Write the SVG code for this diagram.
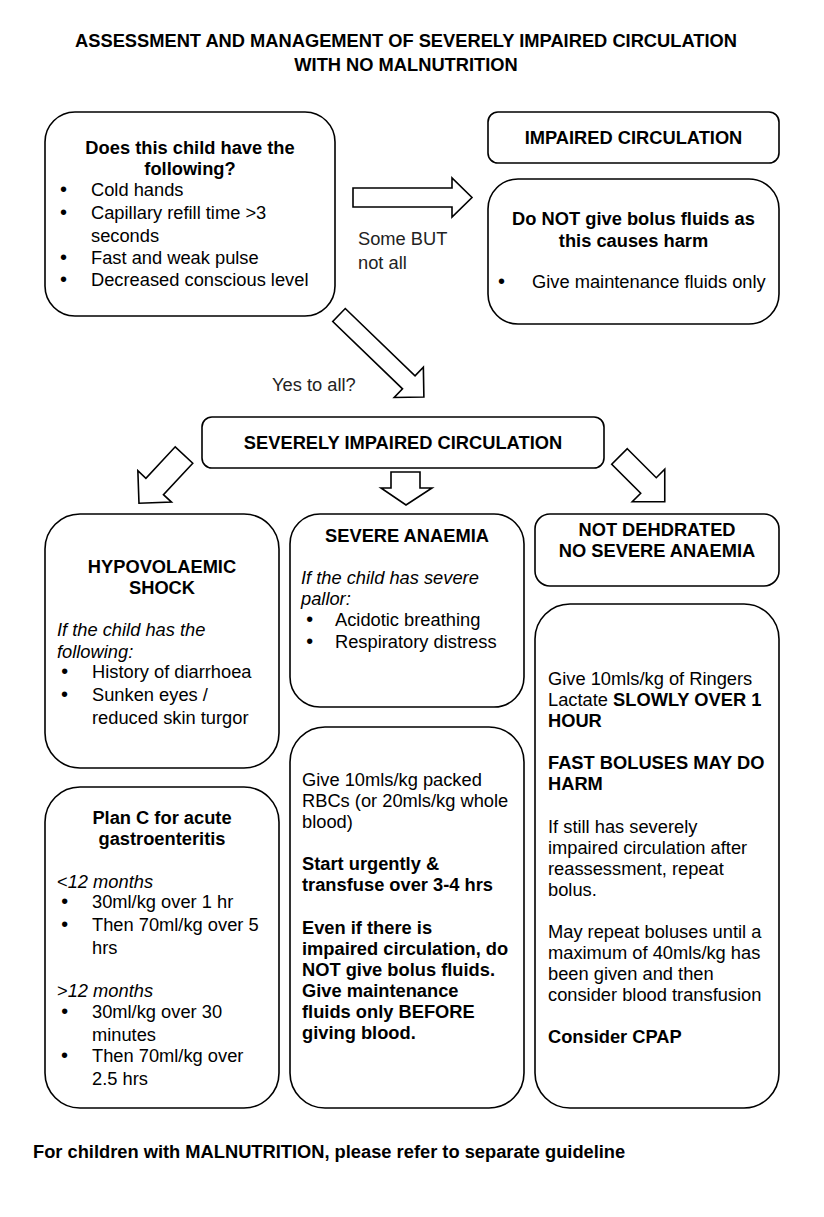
<svg xmlns="http://www.w3.org/2000/svg" width="824" height="1217" viewBox="0 0 824 1217">
<style>
text{font-family:"Liberation Sans",Arial,sans-serif;font-size:18.3px;fill:#000}
.b{font-weight:bold}
.i{font-style:italic}
.c{text-anchor:middle}
.d{font-size:20px}
.box{fill:#fff;stroke:#000;stroke-width:1.6}
.arr{fill:#fff;stroke:#000;stroke-width:1.6;stroke-linejoin:miter}
.lbl{fill:#222}
</style>
<rect width="824" height="1217" fill="#fff"/>
<g id="title">
<text class="b c" x="406" y="47">ASSESSMENT AND MANAGEMENT OF SEVERELY IMPAIRED CIRCULATION</text>
<text class="b c" x="406" y="71">WITH NO MALNUTRITION</text>
</g>
<g id="connectors">
<path class="arr" d="M353,188 L452,188 L452,178 L472,197.5 L452,217 L452,207 L353,207 Z"/>
<path class="arr" transform="translate(339,315) rotate(44)" d="M0,-9 L97,-9 L97,-21 L118,0 L97,21 L97,9 L0,9 Z"/>
<path class="arr" transform="translate(184,455) rotate(133)" d="M0,-12 L43,-12 L43,-23 L66,0 L43,23 L43,12 L0,12 Z"/>
<path class="arr" d="M391,472 L420,472 L420,488 L432,488 L406,505 L381,488 L391,488 Z"/>
<path class="arr" transform="translate(619.5,456.5) rotate(45)" d="M0,-11 L41,-11 L41,-23 L64,0 L41,23 L41,11 L0,11 Z"/>
<text class="lbl" x="358" y="245">Some BUT</text>
<text class="lbl" x="358" y="269">not all</text>
<text class="lbl" x="272" y="391">Yes to all?</text>
</g>
<g id="question">
<rect class="box" x="45" y="112" width="290" height="204" rx="30"/>
<text class="b c" x="190" y="154">Does this child have the</text>
<text class="b c" x="190" y="175">following?</text>
<text class="d" x="60" y="196">•</text><text x="91" y="196">Cold hands</text>
<text class="d" x="60" y="219">•</text><text x="91" y="219">Capillary refill time &gt;3</text>
<text x="91" y="242">seconds</text>
<text class="d" x="60" y="264">•</text><text x="91" y="264">Fast and weak pulse</text>
<text class="d" x="60" y="286">•</text><text x="91" y="286">Decreased conscious level</text>
</g>
<g id="impaired">
<rect class="box" x="488" y="112" width="291" height="51" rx="10"/>
<text class="b c" x="633.5" y="144">IMPAIRED CIRCULATION</text>
</g>
<g id="no-bolus">
<rect class="box" x="488" y="179" width="291" height="145" rx="30"/>
<text class="b c" x="633.5" y="225">Do NOT give bolus fluids as</text>
<text class="b c" x="633.5" y="247">this causes harm</text>
<text class="d" x="498" y="288">•</text><text x="532" y="288">Give maintenance fluids only</text>
</g>
<g id="severely">
<rect class="box" x="202" y="417" width="402" height="51" rx="10"/>
<text class="b c" x="403" y="449">SEVERELY IMPAIRED CIRCULATION</text>
</g>
<g id="hypovolaemic">
<rect class="box" x="45" y="514" width="234" height="254" rx="35"/>
<text class="b c" x="162" y="573">HYPOVOLAEMIC</text>
<text class="b c" x="162" y="594">SHOCK</text>
<text class="i" x="57" y="636">If the child has the</text>
<text class="i" x="57" y="658">following:</text>
<text class="i d" x="61" y="678">•</text><text x="92" y="678">History of diarrhoea</text>
<text class="d" x="61" y="701">•</text><text x="92" y="701">Sunken eyes /</text>
<text x="92" y="724">reduced skin turgor</text>
</g>
<g id="anaemia">
<rect class="box" x="290" y="514" width="234" height="193" rx="30"/>
<text class="b c" x="407" y="542">SEVERE ANAEMIA</text>
<text class="i" x="301" y="584">If the child has severe</text>
<text class="i" x="301" y="605">pallor:</text>
<text class="i d" x="306" y="626">•</text><text x="335" y="626">Acidotic breathing</text>
<text class="i d" x="306" y="648">•</text><text x="335" y="648">Respiratory distress</text>
</g>
<g id="not-dehydrated">
<rect class="box" x="535" y="514" width="244" height="72" rx="15"/>
<text class="b c" x="657" y="536">NOT DEHDRATED</text>
<text class="b c" x="657" y="557">NO SEVERE ANAEMIA</text>
</g>
<g id="plan-c">
<rect class="box" x="45" y="787" width="234" height="321" rx="35"/>
<text class="b c" x="162" y="824">Plan C for acute</text>
<text class="b c" x="162" y="845">gastroenteritis</text>
<text x="57" y="888">&lt;<tspan class="i">12 months</tspan></text>
<text class="i d" x="61" y="908">•</text><text x="92" y="908">30ml/kg over 1 hr</text>
<text class="i d" x="61" y="931">•</text><text x="92" y="931">Then 70ml/kg over 5</text>
<text x="92" y="954">hrs</text>
<text x="57" y="997">&gt;<tspan class="i">12 months</tspan></text>
<text class="i d" x="61" y="1018">•</text><text x="92" y="1018">30ml/kg over 30</text>
<text x="92" y="1041">minutes</text>
<text class="d" x="61" y="1062">•</text><text x="92" y="1062">Then 70ml/kg over</text>
<text x="92" y="1085">2.5 hrs</text>
</g>
<g id="transfuse">
<rect class="box" x="290" y="727" width="234" height="381" rx="35"/>
<text x="302" y="786">Give 10mls/kg packed</text>
<text x="302" y="807">RBCs (or 20mls/kg whole</text>
<text x="302" y="828">blood)</text>
<text class="b" x="302" y="870">Start urgently &amp;</text>
<text class="b" x="302" y="891">transfuse over 3-4 hrs</text>
<text class="b" x="302" y="934">Even if there is</text>
<text class="b" x="302" y="955">impaired circulation, do</text>
<text class="b" x="302" y="976">NOT give bolus fluids.</text>
<text class="b" x="302" y="997">Give maintenance</text>
<text class="b" x="302" y="1018">fluids only BEFORE</text>
<text class="b" x="302" y="1039">giving blood.</text>
</g>
<g id="ringers">
<rect class="box" x="535" y="604" width="244" height="504" rx="35"/>
<text x="548" y="685">Give 10mls/kg of Ringers</text>
<text x="548" y="706">Lactate <tspan class="b">SLOWLY OVER 1</tspan></text>
<text class="b" x="548" y="727">HOUR</text>
<text class="b" x="548" y="769">FAST BOLUSES MAY DO</text>
<text class="b" x="548" y="790">HARM</text>
<text x="548" y="833">If still has severely</text>
<text x="548" y="854">impaired circulation after</text>
<text x="548" y="875">reassessment, repeat</text>
<text x="548" y="896">bolus.</text>
<text x="548" y="938">May repeat boluses until a</text>
<text x="548" y="959">maximum of 40mls/kg has</text>
<text x="548" y="980">been given and then</text>
<text x="548" y="1001">consider blood transfusion</text>
<text class="b" x="548" y="1043">Consider CPAP</text>
</g>
<g id="footer">
<text class="b" x="33" y="1158">For children with MALNUTRITION, please refer to separate guideline</text>
</g>
</svg>
